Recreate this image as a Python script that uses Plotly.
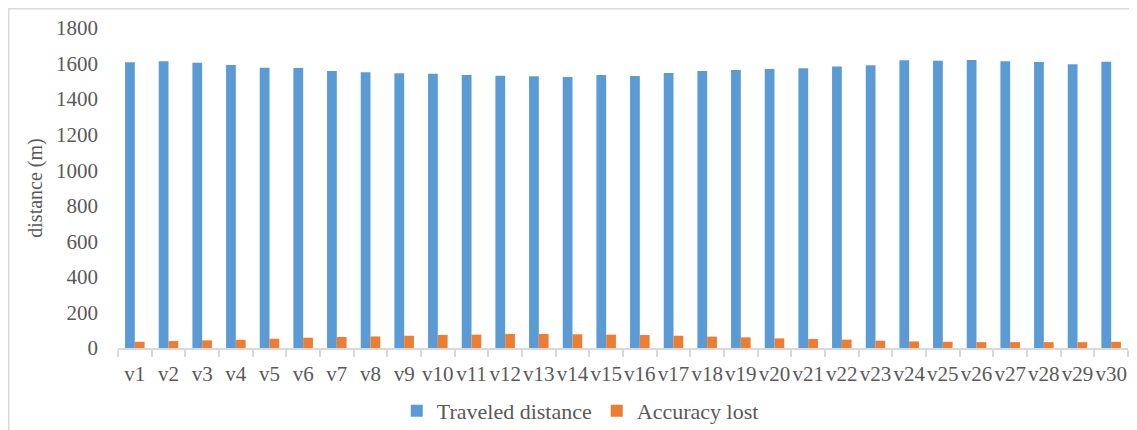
import plotly.graph_objects as go

# data
vehicles = [f"v{i}" for i in range(1, 31)]
traveled_distance = [
    1607, 1613, 1605, 1592, 1577, 1575, 1558, 1551, 1545, 1543,
    1536, 1532, 1528, 1524, 1536, 1530, 1547, 1558, 1564, 1569,
    1573, 1584, 1590, 1618, 1616, 1620, 1613, 1609, 1596, 1610,
]
accuracy_lost = [
    35, 39, 43, 46, 52, 58, 62, 65, 69, 73,
    75, 79, 79, 77, 75, 73, 69, 64, 60, 54,
    51, 47, 41, 37, 35, 33, 33, 33, 33, 35,
]
y_ticks = list(range(0, 1801, 200))

BLUE = "#5B9BD5"
ORANGE = "#ED7D31"
TEXT = "#595959"
LINE = "#D9D9D9"
FONT = "'Liberation Serif', 'Times New Roman', 'DejaVu Serif', serif"

fig = go.Figure()
fig.add_trace(
    go.Bar(
        x=vehicles,
        y=traveled_distance,
        name="Traveled distance",
        marker=dict(color=BLUE, line=dict(width=0)),
    )
)
fig.add_trace(
    go.Bar(
        x=vehicles,
        y=accuracy_lost,
        name="Accuracy lost",
        marker=dict(color=ORANGE, line=dict(width=0)),
    )
)

# outer chart frame (cropped on right and bottom in the reference)
fig.add_shape(
    type="rect",
    xref="paper",
    yref="paper",
    x0=-0.1082,
    x1=1.05,
    y0=-0.4,
    y1=1.0602,
    line=dict(color=LINE, width=1.5),
    layer="below",
)

# page body has an 8px margin, so the figure is sized/offset to fit the window
fig.update_layout(
    width=1129,
    height=422,
    margin=dict(l=110, r=9, t=20, b=82, autoexpand=False),
    paper_bgcolor="white",
    plot_bgcolor="white",
    font=dict(family=FONT, size=21, color=TEXT),
    barmode="group",
    bargap=0.42,
    bargroupgap=0,
    showlegend=True,
    legend=dict(
        orientation="h",
        x=0.276,
        xanchor="left",
        y=-0.197,
        yanchor="middle",
        font=dict(family=FONT, size=22, color=TEXT),
        bgcolor="rgba(0,0,0,0)",
    ),
    xaxis=dict(
        automargin=False,
        showgrid=False,
        showline=True,
        linecolor=LINE,
        linewidth=1.5,
        ticks="outside",
        tickson="boundaries",
        ticklen=7,
        tickcolor=LINE,
        tickwidth=1.5,
        tickangle=0,
        ticklabelstandoff=6,
        tickfont=dict(family=FONT, size=21, color=TEXT),
    ),
    yaxis=dict(
        automargin=False,
        range=[0, 1800],
        tickvals=y_ticks,
        showgrid=False,
        zeroline=False,
        showline=False,
        ticks="",
        ticklabelstandoff=19,
        tickfont=dict(family=FONT, size=21, color=TEXT),
        title=dict(text="distance (m)", font=dict(family=FONT, size=20, color=TEXT), standoff=8),
    ),
)

fig.write_html("out.html")
